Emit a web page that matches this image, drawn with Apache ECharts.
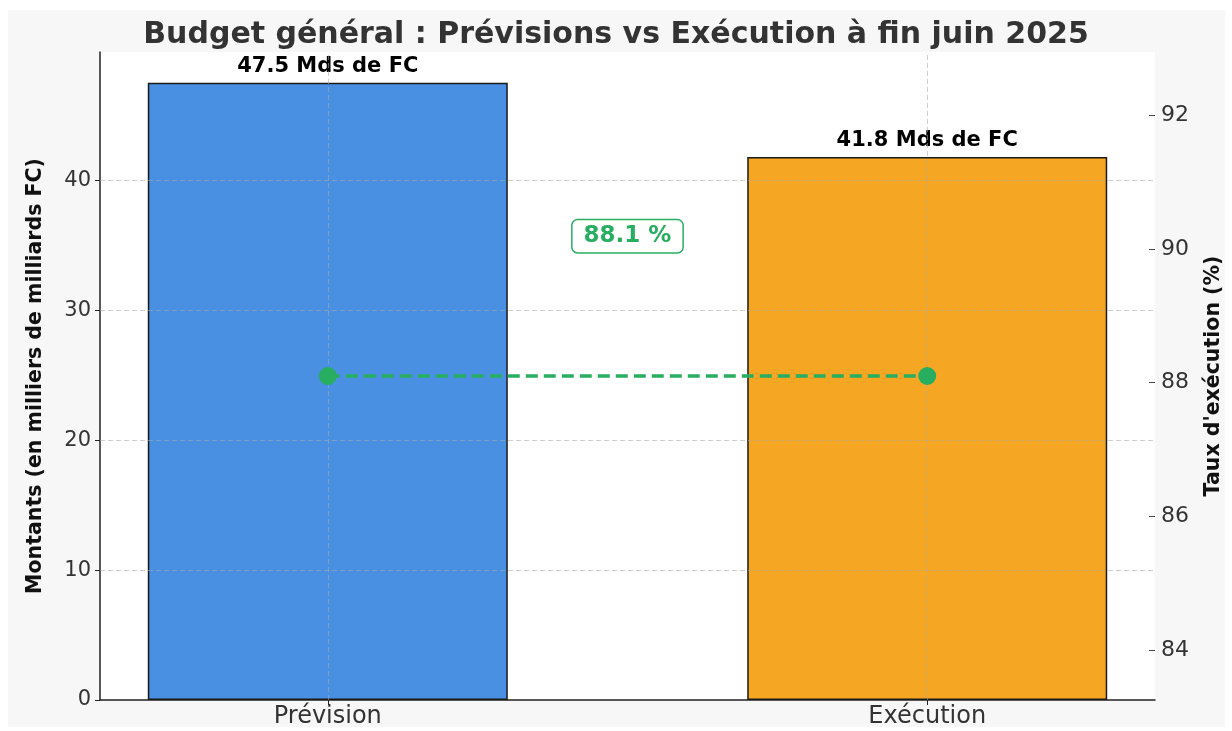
<!DOCTYPE html>
<html>
<head>
<meta charset="utf-8">
<script src="https://cdn.jsdelivr.net/npm/echarts@6/dist/echarts.min.js"></script>
<style>
  html, body { margin: 0; padding: 0; background: #fff; }
  #chart { width: 1232px; height: 731px; }
</style>
</head>
<body>
<div id="chart"></div>
<script>
const categories = ['Prévision', 'Exécution']
const montants = [47.5, 41.8]
const tauxExecution = 88.1
const leftTicks = [0, 10, 20, 30, 40]
const rightTicks = [84, 86, 88, 90, 92]

const font = 'DejaVu Sans'
const green = '#27ae60'
const gridLine = { color: 'rgba(170,170,170,0.55)', type: [5, 3], width: 1 }

const chart = echarts.init(document.getElementById('chart'))

chart.setOption({
    animation: false,
    textStyle: { fontFamily: font },
    graphic: [{
        type: 'rect',
        z: -100,
        shape: { x: 8, y: 10, width: 1217, height: 717 },
        style: { fill: '#f7f7f7' }
    }],
    title: {
        text: 'Budget général : Prévisions vs Exécution à fin juin 2025',
        left: 'center',
        top: 15,
        textStyle: { fontFamily: font, fontSize: 30, fontWeight: 'bold', color: '#333' }
    },
    grid: {
        left: 100, right: 75, top: 52, bottom: 31,
        show: true, backgroundColor: '#fff', borderWidth: 0
    },
    xAxis: {
        type: 'value',
        min: -0.38,
        max: 1.38,
        axisLine: { onZero: false, lineStyle: { color: '#222', width: 1.5 } },
        axisTick: { customValues: [0, 1], length: 5, lineStyle: { color: '#222' } },
        axisLabel: {
            customValues: [0, 1],
            formatter: v => categories[v],
            color: '#333', fontSize: 24, margin: 5
        },
        splitLine: { show: false }
    },
    yAxis: [{
        type: 'value',
        min: 0,
        max: 49.875,
        name: 'Montants (en milliers de milliards FC)',
        nameLocation: 'middle',
        nameGap: 54,
        nameTextStyle: { fontSize: 20.5, fontWeight: 'bold', color: '#111' },
        axisLine: { show: true, onZero: false, lineStyle: { color: '#222', width: 1.5 } },
        axisTick: { show: true, customValues: leftTicks, length: 5, lineStyle: { color: '#222' } },
        axisLabel: { customValues: leftTicks, color: '#333', fontSize: 21, margin: 9 },
        splitLine: { show: false }
    }, {
        type: 'value',
        min: 83.2545,
        max: 92.9455,
        position: 'right',
        name: "Taux d'exécution (%)",
        nameLocation: 'middle',
        nameGap: 48,
        nameTextStyle: { fontSize: 20.5, fontWeight: 'bold', color: '#111' },
        axisLine: { show: false, onZero: false },
        axisTick: { show: true, inside: true, customValues: rightTicks, length: 6, lineStyle: { color: '#444' } },
        axisLabel: { customValues: rightTicks, color: '#333', fontSize: 22, margin: 6 },
        splitLine: { show: false }
    }],
    series: [{
        type: 'bar',
        yAxisIndex: 0,
        barWidth: 360,
        data: montants.map((v, i) => ({
            value: [i, v],
            itemStyle: { color: i === 0 ? '#4a90e2' : '#f5a623' }
        })),
        itemStyle: { borderColor: '#1a1a1a', borderWidth: 1.5 },
        label: {
            show: true,
            position: 'top',
            distance: 6,
            formatter: p => p.value[1] + ' Mds de FC',
            fontSize: 21,
            fontWeight: 'bold',
            color: '#000'
        },
        // grille dessinée au-dessus des barres, comme dans l'original
        markLine: {
            silent: true,
            symbol: 'none',
            label: { show: false },
            lineStyle: gridLine,
            data: categories.map((c, i) => ({ xAxis: i }))
                .concat(leftTicks.slice(1).map(v => ({ yAxis: v })))
        }
    }, {
        type: 'line',
        yAxisIndex: 1,
        z: 5,
        data: categories.map((c, i) => [i, tauxExecution]),
        symbol: 'circle',
        symbolSize: 18,
        itemStyle: { color: green },
        lineStyle: { color: green, width: 3.4, type: [12, 6] },
        markPoint: {
            symbol: 'circle',
            symbolSize: 0,
            data: [{ coord: [0.5, tauxExecution + 2] }],
            label: {
                show: true,
                position: 'inside',
                offset: [0, -6],
                formatter: tauxExecution + ' %',
                fontSize: 23,
                fontWeight: 'bold',
                color: green,
                backgroundColor: '#fff',
                borderColor: green,
                borderWidth: 1.5,
                borderRadius: 5,
                padding: [5, 11, 4, 11]
            }
        }
    }]
})
</script>
</body>
</html>
